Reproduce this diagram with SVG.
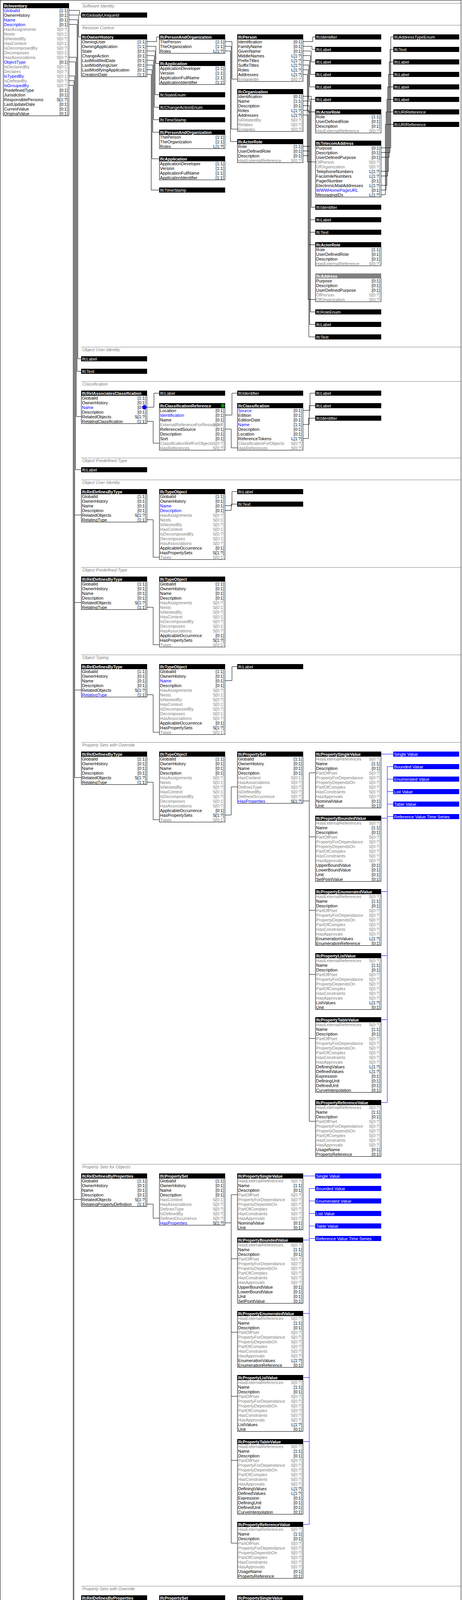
<svg xmlns="http://www.w3.org/2000/svg" width="1184" height="5248" viewBox="0 0 1184 5248">
<style>
text{font-family:"Liberation Sans",Arial,sans-serif;font-size:11px;fill:#000}
.bx{fill:#fff;stroke:#000;stroke-width:1}
.hd{fill:#000}
.hg{fill:#808080}
.hb{fill:#0000ff}
.ht{fill:#fff;font-weight:bold;font-size:10.5px}
.bt{fill:#fff}
.g{fill:#808080}
.u{fill:#0000ff}
.rd{fill:#990000}
.c{text-anchor:end}
.sec{fill:#808080;font-style:italic}
.sl{stroke:#808080;stroke-width:1}
.ln{fill:none;stroke:#000;stroke-width:1}
.lb{fill:none;stroke:#0000ff;stroke-width:1}
</style>
<rect x="0.5" y="0.5" width="1181" height="5246" fill="#fff" stroke="#000"/>
<g id="sections">
<line class="sl" x1="208" y1="8.5" x2="1181" y2="8.5"/><text class="sec" x="211" y="19">Software Identity</text>
<line class="sl" x1="208" y1="64.5" x2="1181" y2="64.5"/><text class="sec" x="211" y="75">Revision Control</text>
<line class="sl" x1="208" y1="888.5" x2="1181" y2="888.5"/><text class="sec" x="211" y="899">Object User Identity</text>
<line class="sl" x1="208" y1="976.5" x2="1181" y2="976.5"/><text class="sec" x="211" y="987">Classification</text>
<line class="sl" x1="208" y1="1172.5" x2="1181" y2="1172.5"/><text class="sec" x="211" y="1183">Object Predefined Type</text>
<line class="sl" x1="208" y1="1228.5" x2="1181" y2="1228.5"/><text class="sec" x="211" y="1239">Object User Identity</text>
<line class="sl" x1="208" y1="1452.5" x2="1181" y2="1452.5"/><text class="sec" x="211" y="1463">Object Predefined Type</text>
<line class="sl" x1="208" y1="1676.5" x2="1181" y2="1676.5"/><text class="sec" x="211" y="1687">Object Typing</text>
<line class="sl" x1="208" y1="1900.5" x2="1181" y2="1900.5"/><text class="sec" x="211" y="1911">Property Sets with Override</text>
<line class="sl" x1="208" y1="2980.5" x2="1181" y2="2980.5"/><text class="sec" x="211" y="2991">Property Sets for Objects</text>
<line class="sl" x1="208" y1="4060.5" x2="1181" y2="4060.5"/><text class="sec" x="211" y="4071">Property Sets with Override</text>
<line class="sl" x1="208" y1="4976.5" x2="1181" y2="4976.5"/><text class="sec" x="211" y="4987">Group Assignment</text>
</g>
<g id="connectors" class="ln">
<path d="M177 26.5H203.5V38.5H208M177 38.5H201.5V94.5H208M177 50.5H199.5V918.5H208M177 62.5H197.5V950.5H208M177 146.5H195.5V1066.5H208M177 158.5H193.5V1202.5H208M177 194.5H191.5V1990.5H208M191.5 1318.5H208M191.5 1542.5H208M191.5 1766.5H208M177 206.5H189.5V4150.5H208M189.5 3070.5H208M177 218.5H187.5V5090.5H208"/>
<path d="M377 106.5H401.5V94.5H408M377 118.5H399.5V162.5H408M377 130.5H397.5V242.5H408M377 142.5H395.5V274.5H408M377 154.5H393.5V306.5H408M377 166.5H391.5V338.5H408M377 178.5H389.5V406.5H408M377 190.5H387.5V486.5H408"/>
<path d="M577 106.5H594.5V202.5H608M577 118.5H592.5V330.5H608M577 130.5H590.5V362.5H608"/>
<path d="M777 106.5H801.5V94.5H808M777 118.5H799.5V126.5H808M777 130.5H797.5V158.5H808M777 142.5H795.5V190.5H808M777 154.5H793.5V222.5H808M777 166.5H791.5V254.5H808M777 178.5H789.5V286.5H808M777 190.5H787.5V414.5H808"/>
<path d="M777 246.5H797.5V530.5H808M777 258.5H795.5V562.5H808M777 270.5H793.5V594.5H808M777 282.5H791.5V626.5H808M777 294.5H789.5V766.5H808M777 374.5H795.5V798.5H808M777 386.5H793.5V830.5H808M777 398.5H791.5V862.5H808"/>
<path d="M977 378.5H1001.5V94.5H1008M977 390.5H999.5V126.5H1008M977 402.5H997.5V158.5H1008M977 438.5H995.5V190.5H1008M977 450.5H993.5V222.5H1008M977 474.5H991.5V254.5H1008M977 486.5H989.5V286.5H1008M977 498.5H987.5V318.5H1008"/>
<path d="M377 1042.5H394.5V1006.5H408M377 1078.5H392.5V1134.5H408M577 1062.5H594.5V1006.5H608M577 1098.5H592.5V1146.5H608M777 1050.5H794.5V1006.5H808M777 1086.5H792.5V1038.5H808M777 1122.5H790.5V1070.5H808"/>
<path d="M377 1330.5H392.5V1426.5H408M577 1294.5H594.5V1258.5H608M577 1306.5H592.5V1290.5H608"/>
<path d="M377 1554.5H392.5V1650.5H408"/>
<path d="M377 1778.5H392.5V1874.5H408M577 1742.5H594.5V1706.5H608"/>
<path d="M377 2002.5H392.5V2098.5H408M577 2086.5H592.5V2014.5H608M777 2050.5H792.5M792.5 1978.5V2870.5M792.5 1978.5H808M792.5 2142.5H808M792.5 2330.5H808M792.5 2494.5H808M792.5 2658.5H808M792.5 2870.5H808"/>
<path d="M377 3082.5H392.5V3118.5H408M577 3130.5H592.5M592.5 3058.5V3950.5M592.5 3058.5H608M592.5 3222.5H608M592.5 3410.5H608M592.5 3574.5H608M592.5 3738.5H608M592.5 3950.5H608"/>
<path d="M377 4162.5H392.5V4198.5H408M577 4210.5H592.5M592.5 4138.5V4818.5M592.5 4138.5H608M592.5 4302.5H608M592.5 4490.5H608M592.5 4654.5H608M592.5 4818.5H608"/>
<path d="M377 5066.5H408"/>
</g>
<g id="connectors-templates" class="lb">
<path d="M977 1930.5H1008M992.5 1962.5V2822.5M992.5 1962.5H1008M992.5 1994.5H1008M992.5 2026.5H1008M992.5 2058.5H1008M992.5 2090.5H1008M977 2094.5H992.5M977 2282.5H992.5M977 2446.5H992.5M977 2610.5H992.5M977 2822.5H992.5"/>
<path d="M777 3010.5H808M792.5 3042.5V3902.5M792.5 3042.5H808M792.5 3074.5H808M792.5 3106.5H808M792.5 3138.5H808M792.5 3170.5H808M777 3174.5H792.5M777 3362.5H792.5M777 3526.5H792.5M777 3690.5H792.5M777 3902.5H792.5"/>
</g>

<g id="n-inventory" transform="translate(8,8)">
<rect class="bx" x="0.5" y="0.5" width="168" height="288"/><rect class="hd" width="169" height="13"/>
<text class="ht" x="2" y="10.5">IfcInventory</text>
<text class="u" x="2" y="23">GlobalId</text><text class="c" x="166" y="23">[1:1]</text>
<text x="2" y="35">OwnerHistory</text><text class="c" x="166" y="35">[0:1]</text>
<text class="u" x="2" y="47">Name</text><text class="c" x="166" y="47">[0:1]</text>
<text class="u" x="2" y="59">Description</text><text class="c" x="166" y="59">[0:1]</text>
<text class="g" x="2" y="71">HasAssignments</text><text class="g c" x="166" y="71">S[0:?]</text>
<text class="g" x="2" y="83">Nests</text><text class="g c" x="166" y="83">S[0:1]</text>
<text class="g" x="2" y="95">IsNestedBy</text><text class="g c" x="166" y="95">S[0:?]</text>
<text class="g" x="2" y="107">HasContext</text><text class="g c" x="166" y="107">S[0:1]</text>
<text class="g" x="2" y="119">IsDecomposedBy</text><text class="g c" x="166" y="119">S[0:?]</text>
<text class="g" x="2" y="131">Decomposes</text><text class="g c" x="166" y="131">S[0:1]</text>
<text class="g" x="2" y="143">HasAssociations</text><text class="g c" x="166" y="143">S[0:?]</text>
<text class="u" x="2" y="155">ObjectType</text><text class="c" x="166" y="155">[0:1]</text>
<text class="g" x="2" y="167">IsDeclaredBy</text><text class="g c" x="166" y="167">S[0:1]</text>
<text class="g" x="2" y="179">Declares</text><text class="g c" x="166" y="179">S[0:?]</text>
<text class="u" x="2" y="191">IsTypedBy</text><text class="g c" x="166" y="191">S[0:1]</text>
<text class="g" x="2" y="203">IsDefinedBy</text><text class="g c" x="166" y="203">S[0:?]</text>
<text class="u" x="2" y="215">IsGroupedBy</text><text class="g c" x="166" y="215">S[0:?]</text>
<text x="2" y="227">PredefinedType</text><text class="c" x="166" y="227">[0:1]</text>
<text x="2" y="239">Jurisdiction</text><text class="c" x="166" y="239">[0:1]</text>
<text x="2" y="251">ResponsiblePersons</text><text class="c" x="166" y="251">S[1:?]</text>
<text x="2" y="263">LastUpdateDate</text><text class="c" x="166" y="263">[0:1]</text>
<text x="2" y="275">CurrentValue</text><text class="c" x="166" y="275">[0:1]</text>
<text x="2" y="287">OriginalValue</text><text class="c" x="166" y="287">[0:1]</text>
</g>

<g id="n-globallyuniqueid" transform="translate(208,32)"><rect class="hd" width="169" height="13"/><text class="bt" x="2" y="10.5">IfcGloballyUniqueId</text></g>

<g id="n-ownerhistory" transform="translate(208,88)">
<rect class="bx" x="0.5" y="0.5" width="168" height="108"/><rect class="hd" width="169" height="13"/>
<text class="ht" x="2" y="10.5">IfcOwnerHistory</text>
<text x="2" y="23">OwningUser</text><text class="c" x="166" y="23">[1:1]</text>
<text x="2" y="35">OwningApplication</text><text class="c" x="166" y="35">[1:1]</text>
<text x="2" y="47">State</text><text class="c" x="166" y="47">[0:1]</text>
<text x="2" y="59">ChangeAction</text><text class="c" x="166" y="59">[0:1]</text>
<text x="2" y="71">LastModifiedDate</text><text class="c" x="166" y="71">[0:1]</text>
<text x="2" y="83">LastModifyingUser</text><text class="c" x="166" y="83">[0:1]</text>
<text x="2" y="95">LastModifyingApplication</text><text class="c" x="166" y="95">[0:1]</text>
<text x="2" y="107">CreationDate</text><text class="c" x="166" y="107">[1:1]</text>
</g>

<g id="n-pao-1" transform="translate(408,88)">
<rect class="bx" x="0.5" y="0.5" width="168" height="48"/><rect class="hd" width="169" height="13"/>
<text class="ht" x="2" y="10.5">IfcPersonAndOrganization</text>
<text x="2" y="23">ThePerson</text><text class="c" x="166" y="23">[1:1]</text>
<text x="2" y="35">TheOrganization</text><text class="c" x="166" y="35">[1:1]</text>
<text x="2" y="47">Roles</text><text class="c" x="166" y="47">L[1:?]</text>
</g>
<g id="n-application-1" transform="translate(408,156)">
<rect class="bx" x="0.5" y="0.5" width="168" height="60"/><rect class="hd" width="169" height="13"/>
<text class="ht" x="2" y="10.5">IfcApplication</text>
<text x="2" y="23">ApplicationDeveloper</text><text class="c" x="166" y="23">[1:1]</text>
<text x="2" y="35">Version</text><text class="c" x="166" y="35">[1:1]</text>
<text x="2" y="47">ApplicationFullName</text><text class="c" x="166" y="47">[1:1]</text>
<text x="2" y="59">ApplicationIdentifier</text><text class="c" x="166" y="59">[1:1]</text>
</g>
<g id="n-stateenum" transform="translate(408,236)"><rect class="hd" width="169" height="13"/><text class="bt" x="2" y="10.5">IfcStateEnum</text></g>
<g id="n-changeactionenum" transform="translate(408,268)"><rect class="hd" width="169" height="13"/><text class="bt" x="2" y="10.5">IfcChangeActionEnum</text></g>
<g id="n-timestamp-1" transform="translate(408,300)"><rect class="hd" width="169" height="13"/><text class="bt" x="2" y="10.5">IfcTimeStamp</text></g>
<g id="n-pao-2" transform="translate(408,332)">
<rect class="bx" x="0.5" y="0.5" width="168" height="48"/><rect class="hd" width="169" height="13"/>
<text class="ht" x="2" y="10.5">IfcPersonAndOrganization</text>
<text x="2" y="23">ThePerson</text><text class="c" x="166" y="23">[1:1]</text>
<text x="2" y="35">TheOrganization</text><text class="c" x="166" y="35">[1:1]</text>
<text x="2" y="47">Roles</text><text class="c" x="166" y="47">L[1:?]</text>
</g>
<g id="n-application-2" transform="translate(408,400)">
<rect class="bx" x="0.5" y="0.5" width="168" height="60"/><rect class="hd" width="169" height="13"/>
<text class="ht" x="2" y="10.5">IfcApplication</text>
<text x="2" y="23">ApplicationDeveloper</text><text class="c" x="166" y="23">[1:1]</text>
<text x="2" y="35">Version</text><text class="c" x="166" y="35">[1:1]</text>
<text x="2" y="47">ApplicationFullName</text><text class="c" x="166" y="47">[1:1]</text>
<text x="2" y="59">ApplicationIdentifier</text><text class="c" x="166" y="59">[1:1]</text>
</g>
<g id="n-timestamp-2" transform="translate(408,480)"><rect class="hd" width="169" height="13"/><text class="bt" x="2" y="10.5">IfcTimeStamp</text></g>

<g id="n-person" transform="translate(608,88)">
<rect class="bx" x="0.5" y="0.5" width="168" height="120"/><rect class="hd" width="169" height="13"/>
<text class="ht" x="2" y="10.5">IfcPerson</text>
<text x="2" y="23">Identification</text><text class="c" x="166" y="23">[0:1]</text>
<text x="2" y="35">FamilyName</text><text class="c" x="166" y="35">[0:1]</text>
<text x="2" y="47">GivenName</text><text class="c" x="166" y="47">[0:1]</text>
<text x="2" y="59">MiddleNames</text><text class="c" x="166" y="59">L[1:?]</text>
<text x="2" y="71">PrefixTitles</text><text class="c" x="166" y="71">L[1:?]</text>
<text x="2" y="83">SuffixTitles</text><text class="c" x="166" y="83">L[1:?]</text>
<text x="2" y="95">Roles</text><text class="c" x="166" y="95">L[1:?]</text>
<text x="2" y="107">Addresses</text><text class="c" x="166" y="107">L[1:?]</text>
<text class="g" x="2" y="119">EngagedIn</text><text class="g c" x="166" y="119">S[0:?]</text>
</g>
<g id="n-organization" transform="translate(608,228)">
<rect class="bx" x="0.5" y="0.5" width="168" height="108"/><rect class="hd" width="169" height="13"/>
<text class="ht" x="2" y="10.5">IfcOrganization</text>
<text x="2" y="23">Identification</text><text class="c" x="166" y="23">[0:1]</text>
<text x="2" y="35">Name</text><text class="c" x="166" y="35">[1:1]</text>
<text x="2" y="47">Description</text><text class="c" x="166" y="47">[0:1]</text>
<text x="2" y="59">Roles</text><text class="c" x="166" y="59">L[1:?]</text>
<text x="2" y="71">Addresses</text><text class="c" x="166" y="71">L[1:?]</text>
<text class="g" x="2" y="83">IsRelatedBy</text><text class="g c" x="166" y="83">S[0:?]</text>
<text class="g" x="2" y="95">Relates</text><text class="g c" x="166" y="95">S[0:?]</text>
<text class="g" x="2" y="107">Engages</text><text class="g c" x="166" y="107">S[0:?]</text>
</g>
<g id="n-actorrole-1" transform="translate(608,356)">
<rect class="bx" x="0.5" y="0.5" width="168" height="60"/><rect class="hd" width="169" height="13"/>
<text class="ht" x="2" y="10.5">IfcActorRole</text>
<text x="2" y="23">Role</text><text class="c" x="166" y="23">[1:1]</text>
<text x="2" y="35">UserDefinedRole</text><text class="c" x="166" y="35">[0:1]</text>
<text x="2" y="47">Description</text><text class="c" x="166" y="47">[0:1]</text>
<text class="g" x="2" y="59">HasExternalReference</text><text class="g c" x="166" y="59">S[0:?]</text>
</g>

<g id="n-identifier-1" transform="translate(808,88)"><rect class="hd" width="169" height="13"/><text class="bt" x="2" y="10.5">IfcIdentifier</text></g>
<g id="n-label-1" transform="translate(808,120)"><rect class="hd" width="169" height="13"/><text class="bt" x="2" y="10.5">IfcLabel</text></g>
<g id="n-label-2" transform="translate(808,152)"><rect class="hd" width="169" height="13"/><text class="bt" x="2" y="10.5">IfcLabel</text></g>
<g id="n-label-3" transform="translate(808,184)"><rect class="hd" width="169" height="13"/><text class="bt" x="2" y="10.5">IfcLabel</text></g>
<g id="n-label-4" transform="translate(808,216)"><rect class="hd" width="169" height="13"/><text class="bt" x="2" y="10.5">IfcLabel</text></g>
<g id="n-label-5" transform="translate(808,248)"><rect class="hd" width="169" height="13"/><text class="bt" x="2" y="10.5">IfcLabel</text></g>
<g id="n-actorrole-2" transform="translate(808,280)">
<rect class="bx" x="0.5" y="0.5" width="168" height="60"/><rect class="hd" width="169" height="13"/>
<text class="ht" x="2" y="10.5">IfcActorRole</text>
<text x="2" y="23">Role</text><text class="c" x="166" y="23">[1:1]</text>
<text x="2" y="35">UserDefinedRole</text><text class="c" x="166" y="35">[0:1]</text>
<text x="2" y="47">Description</text><text class="c" x="166" y="47">[0:1]</text>
<text class="g" x="2" y="59">HasExternalReference</text><text class="g c" x="166" y="59">S[0:?]</text>
</g>
<g id="n-telecomaddress" transform="translate(808,360)">
<rect class="bx" x="0.5" y="0.5" width="168" height="144"/><rect class="hd" width="169" height="13"/>
<text class="ht" x="2" y="10.5">IfcTelecomAddress</text>
<text x="2" y="23">Purpose</text><text class="c" x="166" y="23">[0:1]</text>
<text x="2" y="35">Description</text><text class="c" x="166" y="35">[0:1]</text>
<text x="2" y="47">UserDefinedPurpose</text><text class="c" x="166" y="47">[0:1]</text>
<text class="g" x="2" y="59">OfPerson</text><text class="g c" x="166" y="59">S[0:?]</text>
<text class="g" x="2" y="71">OfOrganization</text><text class="g c" x="166" y="71">S[0:?]</text>
<text x="2" y="83">TelephoneNumbers</text><text class="c" x="166" y="83">L[1:?]</text>
<text x="2" y="95">FacsimileNumbers</text><text class="c" x="166" y="95">L[1:?]</text>
<text x="2" y="107">PagerNumber</text><text class="c" x="166" y="107">[0:1]</text>
<text x="2" y="119">ElectronicMailAddresses</text><text class="c" x="166" y="119">L[1:?]</text>
<text class="u" x="2" y="131">WWWHomePageURL</text><text class="c" x="166" y="131">[0:1]</text>
<text x="2" y="143">MessagingIDs</text><text class="c" x="166" y="143">L[1:?]</text>
</g>
<g id="n-identifier-2" transform="translate(808,524)"><rect class="hd" width="169" height="13"/><text class="bt" x="2" y="10.5">IfcIdentifier</text></g>
<g id="n-label-6" transform="translate(808,556)"><rect class="hd" width="169" height="13"/><text class="bt" x="2" y="10.5">IfcLabel</text></g>
<g id="n-text-1" transform="translate(808,588)"><rect class="hd" width="169" height="13"/><text class="bt" x="2" y="10.5">IfcText</text></g>
<g id="n-actorrole-3" transform="translate(808,620)">
<rect class="bx" x="0.5" y="0.5" width="168" height="60"/><rect class="hd" width="169" height="13"/>
<text class="ht" x="2" y="10.5">IfcActorRole</text>
<text x="2" y="23">Role</text><text class="c" x="166" y="23">[1:1]</text>
<text x="2" y="35">UserDefinedRole</text><text class="c" x="166" y="35">[0:1]</text>
<text x="2" y="47">Description</text><text class="c" x="166" y="47">[0:1]</text>
<text class="g" x="2" y="59">HasExternalReference</text><text class="g c" x="166" y="59">S[0:?]</text>
</g>
<g id="n-address" transform="translate(808,700)">
<rect class="bx" x="0.5" y="0.5" width="168" height="72"/><rect class="hg" width="169" height="13"/>
<text class="ht" x="2" y="10.5">IfcAddress</text>
<text x="2" y="23">Purpose</text><text class="c" x="166" y="23">[0:1]</text>
<text x="2" y="35">Description</text><text class="c" x="166" y="35">[0:1]</text>
<text x="2" y="47">UserDefinedPurpose</text><text class="c" x="166" y="47">[0:1]</text>
<text class="g" x="2" y="59">OfPerson</text><text class="g c" x="166" y="59">S[0:?]</text>
<text class="g" x="2" y="71">OfOrganization</text><text class="g c" x="166" y="71">S[0:?]</text>
</g>
<g id="n-roleenum" transform="translate(808,792)"><rect class="hd" width="169" height="13"/><text class="bt" x="2" y="10.5">IfcRoleEnum</text></g>
<g id="n-label-7" transform="translate(808,824)"><rect class="hd" width="169" height="13"/><text class="bt" x="2" y="10.5">IfcLabel</text></g>
<g id="n-text-2" transform="translate(808,856)"><rect class="hd" width="169" height="13"/><text class="bt" x="2" y="10.5">IfcText</text></g>

<g id="n-addresstypeenum" transform="translate(1008,88)"><rect class="hd" width="169" height="13"/><text class="bt" x="2" y="10.5">IfcAddressTypeEnum</text></g>
<g id="n-text-3" transform="translate(1008,120)"><rect class="hd" width="169" height="13"/><text class="bt" x="2" y="10.5">IfcText</text></g>
<g id="n-label-8" transform="translate(1008,152)"><rect class="hd" width="169" height="13"/><text class="bt" x="2" y="10.5">IfcLabel</text></g>
<g id="n-label-9" transform="translate(1008,184)"><rect class="hd" width="169" height="13"/><text class="bt" x="2" y="10.5">IfcLabel</text></g>
<g id="n-label-10" transform="translate(1008,216)"><rect class="hd" width="169" height="13"/><text class="bt" x="2" y="10.5">IfcLabel</text></g>
<g id="n-label-11" transform="translate(1008,248)"><rect class="hd" width="169" height="13"/><text class="bt" x="2" y="10.5">IfcLabel</text></g>
<g id="n-urireference-1" transform="translate(1008,280)"><rect class="hd" width="169" height="13"/><text class="bt" x="2" y="10.5">IfcURIReference</text></g>
<g id="n-urireference-2" transform="translate(1008,312)"><rect class="hd" width="169" height="13"/><text class="bt" x="2" y="10.5">IfcURIReference</text></g>

<g id="n-label-12" transform="translate(208,912)"><rect class="hd" width="169" height="13"/><text class="bt" x="2" y="10.5">IfcLabel</text></g>
<g id="n-text-4" transform="translate(208,944)"><rect class="hd" width="169" height="13"/><text class="bt" x="2" y="10.5">IfcText</text></g>

<g id="n-relassociatesclassification" transform="translate(208,1000)">
<rect class="bx" x="0.5" y="0.5" width="168" height="84"/><rect class="hd" width="169" height="13"/>
<text class="ht" x="2" y="10.5">IfcRelAssociatesClassification</text>
<text x="2" y="23">GlobalId</text><text class="c" x="166" y="23">[1:1]</text>
<text x="2" y="35">OwnerHistory</text><text class="c" x="166" y="35">[0:1]</text>
<text class="u" x="2" y="47">Name</text><text class="c" x="166" y="47">[0:1]</text>
<text x="2" y="59">Description</text><text class="c" x="166" y="59">[0:1]</text>
<text x="2" y="71">RelatedObjects</text><text class="c" x="166" y="71">S[1:?]</text>
<text x="2" y="83">RelatingClassification</text><text class="c" x="166" y="83">[1:1]</text>
<circle cx="162" cy="42.5" r="5.5" fill="#0000ff"/>
</g>
<g id="n-label-13" transform="translate(408,1000)"><rect class="hd" width="169" height="13"/><text class="bt" x="2" y="10.5">IfcLabel</text></g>
<g id="n-classificationreference" transform="translate(408,1032)">
<rect class="bx" x="0.5" y="0.5" width="168" height="120"/><rect class="hd" width="169" height="13"/>
<text class="ht" x="2" y="10.5">IfcClassificationReference</text>
<circle cx="163" cy="6.5" r="5" fill="#009000"/>
<text x="2" y="23">Location</text><text class="c" x="166" y="23">[0:1]</text>
<text class="u" x="2" y="35">Identification</text><text class="c" x="166" y="35">[0:1]</text>
<text x="2" y="47">Name</text><text class="c" x="166" y="47">[0:1]</text>
<text class="g" x="2" y="59">ExternalReferenceForResources</text><text class="g c" x="166" y="59">S[0:?]</text>
<text x="2" y="71">ReferencedSource</text><text class="c" x="166" y="71">[0:1]</text>
<text x="2" y="83">Description</text><text class="c" x="166" y="83">[0:1]</text>
<text x="2" y="95">Sort</text><text class="c" x="166" y="95">[0:1]</text>
<text class="g" x="2" y="107">ClassificationRefForObjects</text><text class="g c" x="166" y="107">S[0:?]</text>
<text class="g" x="2" y="119">HasReferences</text><text class="g c" x="166" y="119">S[0:?]</text>
</g>
<g id="n-identifier-3" transform="translate(608,1000)"><rect class="hd" width="169" height="13"/><text class="bt" x="2" y="10.5">IfcIdentifier</text></g>
<g id="n-classification" transform="translate(608,1032)">
<rect class="bx" x="0.5" y="0.5" width="168" height="120"/><rect class="hd" width="169" height="13"/>
<text class="ht" x="2" y="10.5">IfcClassification</text>
<text class="u" x="2" y="23">Source</text><text class="c" x="166" y="23">[0:1]</text>
<text x="2" y="35">Edition</text><text class="c" x="166" y="35">[0:1]</text>
<text x="2" y="47">EditionDate</text><text class="c" x="166" y="47">[0:1]</text>
<text class="u" x="2" y="59">Name</text><text class="c" x="166" y="59">[1:1]</text>
<text x="2" y="71">Description</text><text class="c" x="166" y="71">[0:1]</text>
<text x="2" y="83">Location</text><text class="c" x="166" y="83">[0:1]</text>
<text x="2" y="95">ReferenceTokens</text><text class="c" x="166" y="95">L[1:?]</text>
<text class="g" x="2" y="107">ClassificationForObjects</text><text class="g c" x="166" y="107">S[0:?]</text>
<text class="g" x="2" y="119">HasReferences</text><text class="g c" x="166" y="119">S[0:?]</text>
</g>
<g id="n-label-14" transform="translate(808,1000)"><rect class="hd" width="169" height="13"/><text class="bt" x="2" y="10.5">IfcLabel</text></g>
<g id="n-label-15" transform="translate(808,1032)"><rect class="hd" width="169" height="13"/><text class="bt" x="2" y="10.5">IfcLabel</text></g>
<g id="n-identifier-4" transform="translate(808,1064)"><rect class="hd" width="169" height="13"/><text class="bt" x="2" y="10.5">IfcIdentifier</text></g>

<g id="n-label-16" transform="translate(208,1196)"><rect class="hd" width="169" height="13"/><text class="bt" x="2" y="10.5">IfcLabel</text></g>

<g id="n-reldefinesbytype-1" transform="translate(208,1252)">
<rect class="bx" x="0.5" y="0.5" width="168" height="84"/><rect class="hd" width="169" height="13"/>
<text class="ht" x="2" y="10.5">IfcRelDefinesByType</text>
<text x="2" y="23">GlobalId</text><text class="c" x="166" y="23">[1:1]</text>
<text x="2" y="35">OwnerHistory</text><text class="c" x="166" y="35">[0:1]</text>
<text x="2" y="47">Name</text><text class="c" x="166" y="47">[0:1]</text>
<text x="2" y="59">Description</text><text class="c" x="166" y="59">[0:1]</text>
<text x="2" y="71">RelatedObjects</text><text class="c" x="166" y="71">S[1:?]</text>
<text x="2" y="83">RelatingType</text><text class="c" x="166" y="83">[1:1]</text>
</g>
<g id="n-typeobject-1" transform="translate(408,1252)">
<rect class="bx" x="0.5" y="0.5" width="168" height="180"/><rect class="hd" width="169" height="13"/>
<text class="ht" x="2" y="10.5">IfcTypeObject</text>
<text x="2" y="23">GlobalId</text><text class="c" x="166" y="23">[1:1]</text>
<text x="2" y="35">OwnerHistory</text><text class="c" x="166" y="35">[0:1]</text>
<text class="u" x="2" y="47">Name</text><text class="c" x="166" y="47">[0:1]</text>
<text class="u" x="2" y="59">Description</text><text class="c" x="166" y="59">[0:1]</text>
<text class="g" x="2" y="71">HasAssignments</text><text class="g c" x="166" y="71">S[0:?]</text>
<text class="g" x="2" y="83">Nests</text><text class="g c" x="166" y="83">S[0:1]</text>
<text class="g" x="2" y="95">IsNestedBy</text><text class="g c" x="166" y="95">S[0:?]</text>
<text class="g" x="2" y="107">HasContext</text><text class="g c" x="166" y="107">S[0:1]</text>
<text class="g" x="2" y="119">IsDecomposedBy</text><text class="g c" x="166" y="119">S[0:?]</text>
<text class="g" x="2" y="131">Decomposes</text><text class="g c" x="166" y="131">S[0:1]</text>
<text class="g" x="2" y="143">HasAssociations</text><text class="g c" x="166" y="143">S[0:?]</text>
<text x="2" y="155">ApplicableOccurrence</text><text class="c" x="166" y="155">[0:1]</text>
<text x="2" y="167">HasPropertySets</text><text class="c" x="166" y="167">S[1:?]</text>
<text class="g" x="2" y="179">Types</text><text class="g c" x="166" y="179">S[0:1]</text>
</g>
<g id="n-label-17" transform="translate(608,1252)"><rect class="hd" width="169" height="13"/><text class="bt" x="2" y="10.5">IfcLabel</text></g>
<g id="n-text-5" transform="translate(608,1284)"><rect class="hd" width="169" height="13"/><text class="bt" x="2" y="10.5">IfcText</text></g>

<g id="n-reldefinesbytype-2" transform="translate(208,1476)">
<rect class="bx" x="0.5" y="0.5" width="168" height="84"/><rect class="hd" width="169" height="13"/>
<text class="ht" x="2" y="10.5">IfcRelDefinesByType</text>
<text x="2" y="23">GlobalId</text><text class="c" x="166" y="23">[1:1]</text>
<text x="2" y="35">OwnerHistory</text><text class="c" x="166" y="35">[0:1]</text>
<text x="2" y="47">Name</text><text class="c" x="166" y="47">[0:1]</text>
<text x="2" y="59">Description</text><text class="c" x="166" y="59">[0:1]</text>
<text x="2" y="71">RelatedObjects</text><text class="c" x="166" y="71">S[1:?]</text>
<text x="2" y="83">RelatingType</text><text class="c" x="166" y="83">[1:1]</text>
</g>
<g id="n-typeobject-2" transform="translate(408,1476)">
<rect class="bx" x="0.5" y="0.5" width="168" height="180"/><rect class="hd" width="169" height="13"/>
<text class="ht" x="2" y="10.5">IfcTypeObject</text>
<text x="2" y="23">GlobalId</text><text class="c" x="166" y="23">[1:1]</text>
<text x="2" y="35">OwnerHistory</text><text class="c" x="166" y="35">[0:1]</text>
<text x="2" y="47">Name</text><text class="c" x="166" y="47">[0:1]</text>
<text x="2" y="59">Description</text><text class="c" x="166" y="59">[0:1]</text>
<text class="g" x="2" y="71">HasAssignments</text><text class="g c" x="166" y="71">S[0:?]</text>
<text class="g" x="2" y="83">Nests</text><text class="g c" x="166" y="83">S[0:1]</text>
<text class="g" x="2" y="95">IsNestedBy</text><text class="g c" x="166" y="95">S[0:?]</text>
<text class="g" x="2" y="107">HasContext</text><text class="g c" x="166" y="107">S[0:1]</text>
<text class="g" x="2" y="119">IsDecomposedBy</text><text class="g c" x="166" y="119">S[0:?]</text>
<text class="g" x="2" y="131">Decomposes</text><text class="g c" x="166" y="131">S[0:1]</text>
<text class="g" x="2" y="143">HasAssociations</text><text class="g c" x="166" y="143">S[0:?]</text>
<text x="2" y="155">ApplicableOccurrence</text><text class="c" x="166" y="155">[0:1]</text>
<text x="2" y="167">HasPropertySets</text><text class="c" x="166" y="167">S[1:?]</text>
<text class="g" x="2" y="179">Types</text><text class="g c" x="166" y="179">S[0:1]</text>
</g>

<g id="n-reldefinesbytype-3" transform="translate(208,1700)">
<rect class="bx" x="0.5" y="0.5" width="168" height="84"/><rect class="hd" width="169" height="13"/>
<text class="ht" x="2" y="10.5">IfcRelDefinesByType</text>
<text x="2" y="23">GlobalId</text><text class="c" x="166" y="23">[1:1]</text>
<text x="2" y="35">OwnerHistory</text><text class="c" x="166" y="35">[0:1]</text>
<text x="2" y="47">Name</text><text class="c" x="166" y="47">[0:1]</text>
<text x="2" y="59">Description</text><text class="c" x="166" y="59">[0:1]</text>
<text x="2" y="71">RelatedObjects</text><text class="c" x="166" y="71">S[1:?]</text>
<text class="u" x="2" y="83">RelatingType</text><text class="c" x="166" y="83">[1:1]</text>
</g>
<g id="n-typeobject-3" transform="translate(408,1700)">
<rect class="bx" x="0.5" y="0.5" width="168" height="180"/><rect class="hd" width="169" height="13"/>
<text class="ht" x="2" y="10.5">IfcTypeObject</text>
<text x="2" y="23">GlobalId</text><text class="c" x="166" y="23">[1:1]</text>
<text x="2" y="35">OwnerHistory</text><text class="c" x="166" y="35">[0:1]</text>
<text class="u" x="2" y="47">Name</text><text class="c" x="166" y="47">[0:1]</text>
<text x="2" y="59">Description</text><text class="c" x="166" y="59">[0:1]</text>
<text class="g" x="2" y="71">HasAssignments</text><text class="g c" x="166" y="71">S[0:?]</text>
<text class="g" x="2" y="83">Nests</text><text class="g c" x="166" y="83">S[0:1]</text>
<text class="g" x="2" y="95">IsNestedBy</text><text class="g c" x="166" y="95">S[0:?]</text>
<text class="g" x="2" y="107">HasContext</text><text class="g c" x="166" y="107">S[0:1]</text>
<text class="g" x="2" y="119">IsDecomposedBy</text><text class="g c" x="166" y="119">S[0:?]</text>
<text class="g" x="2" y="131">Decomposes</text><text class="g c" x="166" y="131">S[0:1]</text>
<text class="g" x="2" y="143">HasAssociations</text><text class="g c" x="166" y="143">S[0:?]</text>
<text x="2" y="155">ApplicableOccurrence</text><text class="c" x="166" y="155">[0:1]</text>
<text x="2" y="167">HasPropertySets</text><text class="c" x="166" y="167">S[1:?]</text>
<text class="g" x="2" y="179">Types</text><text class="g c" x="166" y="179">S[0:1]</text>
</g>
<g id="n-label-18" transform="translate(608,1700)"><rect class="hd" width="169" height="13"/><text class="bt" x="2" y="10.5">IfcLabel</text></g>

<g id="n-reldefinesbytype-4" transform="translate(208,1924)">
<rect class="bx" x="0.5" y="0.5" width="168" height="84"/><rect class="hd" width="169" height="13"/>
<text class="ht" x="2" y="10.5">IfcRelDefinesByType</text>
<text x="2" y="23">GlobalId</text><text class="c" x="166" y="23">[1:1]</text>
<text x="2" y="35">OwnerHistory</text><text class="c" x="166" y="35">[0:1]</text>
<text x="2" y="47">Name</text><text class="c" x="166" y="47">[0:1]</text>
<text x="2" y="59">Description</text><text class="c" x="166" y="59">[0:1]</text>
<text x="2" y="71">RelatedObjects</text><text class="c" x="166" y="71">S[1:?]</text>
<text x="2" y="83">RelatingType</text><text class="c" x="166" y="83">[1:1]</text>
</g>
<g id="n-typeobject-4" transform="translate(408,1924)">
<rect class="bx" x="0.5" y="0.5" width="168" height="180"/><rect class="hd" width="169" height="13"/>
<text class="ht" x="2" y="10.5">IfcTypeObject</text>
<text x="2" y="23">GlobalId</text><text class="c" x="166" y="23">[1:1]</text>
<text x="2" y="35">OwnerHistory</text><text class="c" x="166" y="35">[0:1]</text>
<text x="2" y="47">Name</text><text class="c" x="166" y="47">[0:1]</text>
<text x="2" y="59">Description</text><text class="c" x="166" y="59">[0:1]</text>
<text class="g" x="2" y="71">HasAssignments</text><text class="g c" x="166" y="71">S[0:?]</text>
<text class="g" x="2" y="83">Nests</text><text class="g c" x="166" y="83">S[0:1]</text>
<text class="g" x="2" y="95">IsNestedBy</text><text class="g c" x="166" y="95">S[0:?]</text>
<text class="g" x="2" y="107">HasContext</text><text class="g c" x="166" y="107">S[0:1]</text>
<text class="g" x="2" y="119">IsDecomposedBy</text><text class="g c" x="166" y="119">S[0:?]</text>
<text class="g" x="2" y="131">Decomposes</text><text class="g c" x="166" y="131">S[0:1]</text>
<text class="g" x="2" y="143">HasAssociations</text><text class="g c" x="166" y="143">S[0:?]</text>
<text x="2" y="155">ApplicableOccurrence</text><text class="c" x="166" y="155">[0:1]</text>
<text x="2" y="167">HasPropertySets</text><text class="c" x="166" y="167">S[1:?]</text>
<text class="g" x="2" y="179">Types</text><text class="g c" x="166" y="179">S[0:1]</text>
</g>
<g id="n-propertyset-1" transform="translate(608,1924)">
<rect class="bx" x="0.5" y="0.5" width="168" height="132"/><rect class="hd" width="169" height="13"/>
<text class="ht" x="2" y="10.5">IfcPropertySet</text>
<text x="2" y="23">GlobalId</text><text class="c" x="166" y="23">[1:1]</text>
<text x="2" y="35">OwnerHistory</text><text class="c" x="166" y="35">[0:1]</text>
<text x="2" y="47">Name</text><text class="c" x="166" y="47">[0:1]</text>
<text x="2" y="59">Description</text><text class="c" x="166" y="59">[0:1]</text>
<text class="g" x="2" y="71">HasContext</text><text class="g c" x="166" y="71">S[0:1]</text>
<text class="g" x="2" y="83">HasAssociations</text><text class="g c" x="166" y="83">S[0:?]</text>
<text class="g" x="2" y="95">DefinesType</text><text class="g c" x="166" y="95">S[0:?]</text>
<text class="g" x="2" y="107">IsDefinedBy</text><text class="g c" x="166" y="107">S[0:?]</text>
<text class="g" x="2" y="119">DefinesOccurrence</text><text class="g c" x="166" y="119">S[0:?]</text>
<text class="u" x="2" y="131">HasProperties</text><text class="c" x="166" y="131">S[1:?]</text>
</g>
<g id="n-singlevalue-1" transform="translate(808,1924)">
<rect class="bx" x="0.5" y="0.5" width="168" height="144"/><rect class="hd" width="169" height="13"/>
<text class="ht" x="2" y="10.5">IfcPropertySingleValue</text>
<text class="g" x="2" y="23">HasExternalReferences</text><text class="g c" x="166" y="23">S[0:?]</text>
<text x="2" y="35">Name</text><text class="c" x="166" y="35">[1:1]</text>
<text x="2" y="47">Description</text><text class="c" x="166" y="47">[0:1]</text>
<text class="g" x="2" y="59">PartOfPset</text><text class="g c" x="166" y="59">S[0:?]</text>
<text class="g" x="2" y="71">PropertyForDependance</text><text class="g c" x="166" y="71">S[0:?]</text>
<text class="g" x="2" y="83">PropertyDependsOn</text><text class="g c" x="166" y="83">S[0:?]</text>
<text class="g" x="2" y="95">PartOfComplex</text><text class="g c" x="166" y="95">S[0:?]</text>
<text class="g" x="2" y="107">HasConstraints</text><text class="g c" x="166" y="107">S[0:?]</text>
<text class="g" x="2" y="119">HasApprovals</text><text class="g c" x="166" y="119">S[0:?]</text>
<text x="2" y="131">NominalValue</text><text class="c" x="166" y="131">[0:1]</text>
<text x="2" y="143">Unit</text><text class="c" x="166" y="143">[0:1]</text>
</g>
<g id="n-boundedvalue-1" transform="translate(808,2088)">
<rect class="bx" x="0.5" y="0.5" width="168" height="168"/><rect class="hd" width="169" height="13"/>
<text class="ht" x="2" y="10.5">IfcPropertyBoundedValue</text>
<text class="g" x="2" y="23">HasExternalReferences</text><text class="g c" x="166" y="23">S[0:?]</text>
<text x="2" y="35">Name</text><text class="c" x="166" y="35">[1:1]</text>
<text x="2" y="47">Description</text><text class="c" x="166" y="47">[0:1]</text>
<text class="g" x="2" y="59">PartOfPset</text><text class="g c" x="166" y="59">S[0:?]</text>
<text class="g" x="2" y="71">PropertyForDependance</text><text class="g c" x="166" y="71">S[0:?]</text>
<text class="g" x="2" y="83">PropertyDependsOn</text><text class="g c" x="166" y="83">S[0:?]</text>
<text class="g" x="2" y="95">PartOfComplex</text><text class="g c" x="166" y="95">S[0:?]</text>
<text class="g" x="2" y="107">HasConstraints</text><text class="g c" x="166" y="107">S[0:?]</text>
<text class="g" x="2" y="119">HasApprovals</text><text class="g c" x="166" y="119">S[0:?]</text>
<text x="2" y="131">UpperBoundValue</text><text class="c" x="166" y="131">[0:1]</text>
<text x="2" y="143">LowerBoundValue</text><text class="c" x="166" y="143">[0:1]</text>
<text x="2" y="155">Unit</text><text class="c" x="166" y="155">[0:1]</text>
<text x="2" y="167">SetPointValue</text><text class="c" x="166" y="167">[0:1]</text>
</g>
<g id="n-enumeratedvalue-1" transform="translate(808,2276)">
<rect class="bx" x="0.5" y="0.5" width="168" height="144"/><rect class="hd" width="169" height="13"/>
<text class="ht" x="2" y="10.5">IfcPropertyEnumeratedValue</text>
<text class="g" x="2" y="23">HasExternalReferences</text><text class="g c" x="166" y="23">S[0:?]</text>
<text x="2" y="35">Name</text><text class="c" x="166" y="35">[1:1]</text>
<text x="2" y="47">Description</text><text class="c" x="166" y="47">[0:1]</text>
<text class="g" x="2" y="59">PartOfPset</text><text class="g c" x="166" y="59">S[0:?]</text>
<text class="g" x="2" y="71">PropertyForDependance</text><text class="g c" x="166" y="71">S[0:?]</text>
<text class="g" x="2" y="83">PropertyDependsOn</text><text class="g c" x="166" y="83">S[0:?]</text>
<text class="g" x="2" y="95">PartOfComplex</text><text class="g c" x="166" y="95">S[0:?]</text>
<text class="g" x="2" y="107">HasConstraints</text><text class="g c" x="166" y="107">S[0:?]</text>
<text class="g" x="2" y="119">HasApprovals</text><text class="g c" x="166" y="119">S[0:?]</text>
<text x="2" y="131">EnumerationValues</text><text class="c" x="166" y="131">L[1:?]</text>
<text x="2" y="143">EnumerationReference</text><text class="c" x="166" y="143">[0:1]</text>
</g>
<g id="n-listvalue-1" transform="translate(808,2440)">
<rect class="bx" x="0.5" y="0.5" width="168" height="144"/><rect class="hd" width="169" height="13"/>
<text class="ht" x="2" y="10.5">IfcPropertyListValue</text>
<text class="g" x="2" y="23">HasExternalReferences</text><text class="g c" x="166" y="23">S[0:?]</text>
<text x="2" y="35">Name</text><text class="c" x="166" y="35">[1:1]</text>
<text x="2" y="47">Description</text><text class="c" x="166" y="47">[0:1]</text>
<text class="g" x="2" y="59">PartOfPset</text><text class="g c" x="166" y="59">S[0:?]</text>
<text class="g" x="2" y="71">PropertyForDependance</text><text class="g c" x="166" y="71">S[0:?]</text>
<text class="g" x="2" y="83">PropertyDependsOn</text><text class="g c" x="166" y="83">S[0:?]</text>
<text class="g" x="2" y="95">PartOfComplex</text><text class="g c" x="166" y="95">S[0:?]</text>
<text class="g" x="2" y="107">HasConstraints</text><text class="g c" x="166" y="107">S[0:?]</text>
<text class="g" x="2" y="119">HasApprovals</text><text class="g c" x="166" y="119">S[0:?]</text>
<text x="2" y="131">ListValues</text><text class="c" x="166" y="131">L[1:?]</text>
<text x="2" y="143">Unit</text><text class="c" x="166" y="143">[0:1]</text>
</g>
<g id="n-tablevalue-1" transform="translate(808,2604)">
<rect class="bx" x="0.5" y="0.5" width="168" height="192"/><rect class="hd" width="169" height="13"/>
<text class="ht" x="2" y="10.5">IfcPropertyTableValue</text>
<text class="g" x="2" y="23">HasExternalReferences</text><text class="g c" x="166" y="23">S[0:?]</text>
<text x="2" y="35">Name</text><text class="c" x="166" y="35">[1:1]</text>
<text x="2" y="47">Description</text><text class="c" x="166" y="47">[0:1]</text>
<text class="g" x="2" y="59">PartOfPset</text><text class="g c" x="166" y="59">S[0:?]</text>
<text class="g" x="2" y="71">PropertyForDependance</text><text class="g c" x="166" y="71">S[0:?]</text>
<text class="g" x="2" y="83">PropertyDependsOn</text><text class="g c" x="166" y="83">S[0:?]</text>
<text class="g" x="2" y="95">PartOfComplex</text><text class="g c" x="166" y="95">S[0:?]</text>
<text class="g" x="2" y="107">HasConstraints</text><text class="g c" x="166" y="107">S[0:?]</text>
<text class="g" x="2" y="119">HasApprovals</text><text class="g c" x="166" y="119">S[0:?]</text>
<text x="2" y="131">DefiningValues</text><text class="c" x="166" y="131">L[1:?]</text>
<text x="2" y="143">DefinedValues</text><text class="c" x="166" y="143">L[1:?]</text>
<text x="2" y="155">Expression</text><text class="c" x="166" y="155">[0:1]</text>
<text x="2" y="167">DefiningUnit</text><text class="c" x="166" y="167">[0:1]</text>
<text x="2" y="179">DefinedUnit</text><text class="c" x="166" y="179">[0:1]</text>
<text x="2" y="191">CurveInterpolation</text><text class="c" x="166" y="191">[0:1]</text>
</g>
<g id="n-referencevalue-1" transform="translate(808,2816)">
<rect class="bx" x="0.5" y="0.5" width="168" height="144"/><rect class="hd" width="169" height="13"/>
<text class="ht" x="2" y="10.5">IfcPropertyReferenceValue</text>
<text class="g" x="2" y="23">HasExternalReferences</text><text class="g c" x="166" y="23">S[0:?]</text>
<text x="2" y="35">Name</text><text class="c" x="166" y="35">[1:1]</text>
<text x="2" y="47">Description</text><text class="c" x="166" y="47">[0:1]</text>
<text class="g" x="2" y="59">PartOfPset</text><text class="g c" x="166" y="59">S[0:?]</text>
<text class="g" x="2" y="71">PropertyForDependance</text><text class="g c" x="166" y="71">S[0:?]</text>
<text class="g" x="2" y="83">PropertyDependsOn</text><text class="g c" x="166" y="83">S[0:?]</text>
<text class="g" x="2" y="95">PartOfComplex</text><text class="g c" x="166" y="95">S[0:?]</text>
<text class="g" x="2" y="107">HasConstraints</text><text class="g c" x="166" y="107">S[0:?]</text>
<text class="g" x="2" y="119">HasApprovals</text><text class="g c" x="166" y="119">S[0:?]</text>
<text x="2" y="131">UsageName</text><text class="c" x="166" y="131">[0:1]</text>
<text x="2" y="143">PropertyReference</text><text class="c" x="166" y="143">[0:1]</text>
</g>
<g id="n-tpl-single-1" transform="translate(1008,1924)"><rect class="hb" width="169" height="13"/><text class="bt" x="2" y="10.5">Single Value</text></g>
<g id="n-tpl-bounded-1" transform="translate(1008,1956)"><rect class="hb" width="169" height="13"/><text class="bt" x="2" y="10.5">Bounded Value</text></g>
<g id="n-tpl-enumerated-1" transform="translate(1008,1988)"><rect class="hb" width="169" height="13"/><text class="bt" x="2" y="10.5">Enumerated Value</text></g>
<g id="n-tpl-list-1" transform="translate(1008,2020)"><rect class="hb" width="169" height="13"/><text class="bt" x="2" y="10.5">List Value</text></g>
<g id="n-tpl-table-1" transform="translate(1008,2052)"><rect class="hb" width="169" height="13"/><text class="bt" x="2" y="10.5">Table Value</text></g>
<g id="n-tpl-reference-1" transform="translate(1008,2084)"><rect class="hb" width="169" height="13"/><text class="bt" x="2" y="10.5">Reference Value Time Series</text></g>

<g id="n-reldefinesbyproperties-1" transform="translate(208,3004)">
<rect class="bx" x="0.5" y="0.5" width="168" height="84"/><rect class="hd" width="169" height="13"/>
<text class="ht" x="2" y="10.5">IfcRelDefinesByProperties</text>
<text x="2" y="23">GlobalId</text><text class="c" x="166" y="23">[1:1]</text>
<text x="2" y="35">OwnerHistory</text><text class="c" x="166" y="35">[0:1]</text>
<text x="2" y="47">Name</text><text class="c" x="166" y="47">[0:1]</text>
<text x="2" y="59">Description</text><text class="c" x="166" y="59">[0:1]</text>
<text x="2" y="71">RelatedObjects</text><text class="c" x="166" y="71">S[1:?]</text>
<text x="2" y="83">RelatingPropertyDefinition</text><text class="c" x="166" y="83">[1:1]</text>
</g>
<g id="n-propertyset-2" transform="translate(408,3004)">
<rect class="bx" x="0.5" y="0.5" width="168" height="132"/><rect class="hd" width="169" height="13"/>
<text class="ht" x="2" y="10.5">IfcPropertySet</text>
<text x="2" y="23">GlobalId</text><text class="c" x="166" y="23">[1:1]</text>
<text x="2" y="35">OwnerHistory</text><text class="c" x="166" y="35">[0:1]</text>
<text x="2" y="47">Name</text><text class="c" x="166" y="47">[0:1]</text>
<text x="2" y="59">Description</text><text class="c" x="166" y="59">[0:1]</text>
<text class="g" x="2" y="71">HasContext</text><text class="g c" x="166" y="71">S[0:1]</text>
<text class="g" x="2" y="83">HasAssociations</text><text class="g c" x="166" y="83">S[0:?]</text>
<text class="g" x="2" y="95">DefinesType</text><text class="g c" x="166" y="95">S[0:?]</text>
<text class="g" x="2" y="107">IsDefinedBy</text><text class="g c" x="166" y="107">S[0:?]</text>
<text class="g" x="2" y="119">DefinesOccurrence</text><text class="g c" x="166" y="119">S[0:?]</text>
<text class="u" x="2" y="131">HasProperties</text><text class="c" x="166" y="131">S[1:?]</text>
</g>
<g id="n-singlevalue-2" transform="translate(608,3004)">
<rect class="bx" x="0.5" y="0.5" width="168" height="144"/><rect class="hd" width="169" height="13"/>
<text class="ht" x="2" y="10.5">IfcPropertySingleValue</text>
<text class="g" x="2" y="23">HasExternalReferences</text><text class="g c" x="166" y="23">S[0:?]</text>
<text x="2" y="35">Name</text><text class="c" x="166" y="35">[1:1]</text>
<text x="2" y="47">Description</text><text class="c" x="166" y="47">[0:1]</text>
<text class="g" x="2" y="59">PartOfPset</text><text class="g c" x="166" y="59">S[0:?]</text>
<text class="g" x="2" y="71">PropertyForDependance</text><text class="g c" x="166" y="71">S[0:?]</text>
<text class="g" x="2" y="83">PropertyDependsOn</text><text class="g c" x="166" y="83">S[0:?]</text>
<text class="g" x="2" y="95">PartOfComplex</text><text class="g c" x="166" y="95">S[0:?]</text>
<text class="g" x="2" y="107">HasConstraints</text><text class="g c" x="166" y="107">S[0:?]</text>
<text class="g" x="2" y="119">HasApprovals</text><text class="g c" x="166" y="119">S[0:?]</text>
<text x="2" y="131">NominalValue</text><text class="c" x="166" y="131">[0:1]</text>
<text x="2" y="143">Unit</text><text class="c" x="166" y="143">[0:1]</text>
</g>
<g id="n-boundedvalue-2" transform="translate(608,3168)">
<rect class="bx" x="0.5" y="0.5" width="168" height="168"/><rect class="hd" width="169" height="13"/>
<text class="ht" x="2" y="10.5">IfcPropertyBoundedValue</text>
<text class="g" x="2" y="23">HasExternalReferences</text><text class="g c" x="166" y="23">S[0:?]</text>
<text x="2" y="35">Name</text><text class="c" x="166" y="35">[1:1]</text>
<text x="2" y="47">Description</text><text class="c" x="166" y="47">[0:1]</text>
<text class="g" x="2" y="59">PartOfPset</text><text class="g c" x="166" y="59">S[0:?]</text>
<text class="g" x="2" y="71">PropertyForDependance</text><text class="g c" x="166" y="71">S[0:?]</text>
<text class="g" x="2" y="83">PropertyDependsOn</text><text class="g c" x="166" y="83">S[0:?]</text>
<text class="g" x="2" y="95">PartOfComplex</text><text class="g c" x="166" y="95">S[0:?]</text>
<text class="g" x="2" y="107">HasConstraints</text><text class="g c" x="166" y="107">S[0:?]</text>
<text class="g" x="2" y="119">HasApprovals</text><text class="g c" x="166" y="119">S[0:?]</text>
<text x="2" y="131">UpperBoundValue</text><text class="c" x="166" y="131">[0:1]</text>
<text x="2" y="143">LowerBoundValue</text><text class="c" x="166" y="143">[0:1]</text>
<text x="2" y="155">Unit</text><text class="c" x="166" y="155">[0:1]</text>
<text x="2" y="167">SetPointValue</text><text class="c" x="166" y="167">[0:1]</text>
</g>
<g id="n-enumeratedvalue-2" transform="translate(608,3356)">
<rect class="bx" x="0.5" y="0.5" width="168" height="144"/><rect class="hd" width="169" height="13"/>
<text class="ht" x="2" y="10.5">IfcPropertyEnumeratedValue</text>
<text class="g" x="2" y="23">HasExternalReferences</text><text class="g c" x="166" y="23">S[0:?]</text>
<text x="2" y="35">Name</text><text class="c" x="166" y="35">[1:1]</text>
<text x="2" y="47">Description</text><text class="c" x="166" y="47">[0:1]</text>
<text class="g" x="2" y="59">PartOfPset</text><text class="g c" x="166" y="59">S[0:?]</text>
<text class="g" x="2" y="71">PropertyForDependance</text><text class="g c" x="166" y="71">S[0:?]</text>
<text class="g" x="2" y="83">PropertyDependsOn</text><text class="g c" x="166" y="83">S[0:?]</text>
<text class="g" x="2" y="95">PartOfComplex</text><text class="g c" x="166" y="95">S[0:?]</text>
<text class="g" x="2" y="107">HasConstraints</text><text class="g c" x="166" y="107">S[0:?]</text>
<text class="g" x="2" y="119">HasApprovals</text><text class="g c" x="166" y="119">S[0:?]</text>
<text x="2" y="131">EnumerationValues</text><text class="c" x="166" y="131">L[1:?]</text>
<text x="2" y="143">EnumerationReference</text><text class="c" x="166" y="143">[0:1]</text>
</g>
<g id="n-listvalue-2" transform="translate(608,3520)">
<rect class="bx" x="0.5" y="0.5" width="168" height="144"/><rect class="hd" width="169" height="13"/>
<text class="ht" x="2" y="10.5">IfcPropertyListValue</text>
<text class="g" x="2" y="23">HasExternalReferences</text><text class="g c" x="166" y="23">S[0:?]</text>
<text x="2" y="35">Name</text><text class="c" x="166" y="35">[1:1]</text>
<text x="2" y="47">Description</text><text class="c" x="166" y="47">[0:1]</text>
<text class="g" x="2" y="59">PartOfPset</text><text class="g c" x="166" y="59">S[0:?]</text>
<text class="g" x="2" y="71">PropertyForDependance</text><text class="g c" x="166" y="71">S[0:?]</text>
<text class="g" x="2" y="83">PropertyDependsOn</text><text class="g c" x="166" y="83">S[0:?]</text>
<text class="g" x="2" y="95">PartOfComplex</text><text class="g c" x="166" y="95">S[0:?]</text>
<text class="g" x="2" y="107">HasConstraints</text><text class="g c" x="166" y="107">S[0:?]</text>
<text class="g" x="2" y="119">HasApprovals</text><text class="g c" x="166" y="119">S[0:?]</text>
<text x="2" y="131">ListValues</text><text class="c" x="166" y="131">L[1:?]</text>
<text x="2" y="143">Unit</text><text class="c" x="166" y="143">[0:1]</text>
</g>
<g id="n-tablevalue-2" transform="translate(608,3684)">
<rect class="bx" x="0.5" y="0.5" width="168" height="192"/><rect class="hd" width="169" height="13"/>
<text class="ht" x="2" y="10.5">IfcPropertyTableValue</text>
<text class="g" x="2" y="23">HasExternalReferences</text><text class="g c" x="166" y="23">S[0:?]</text>
<text x="2" y="35">Name</text><text class="c" x="166" y="35">[1:1]</text>
<text x="2" y="47">Description</text><text class="c" x="166" y="47">[0:1]</text>
<text class="g" x="2" y="59">PartOfPset</text><text class="g c" x="166" y="59">S[0:?]</text>
<text class="g" x="2" y="71">PropertyForDependance</text><text class="g c" x="166" y="71">S[0:?]</text>
<text class="g" x="2" y="83">PropertyDependsOn</text><text class="g c" x="166" y="83">S[0:?]</text>
<text class="g" x="2" y="95">PartOfComplex</text><text class="g c" x="166" y="95">S[0:?]</text>
<text class="g" x="2" y="107">HasConstraints</text><text class="g c" x="166" y="107">S[0:?]</text>
<text class="g" x="2" y="119">HasApprovals</text><text class="g c" x="166" y="119">S[0:?]</text>
<text x="2" y="131">DefiningValues</text><text class="c" x="166" y="131">L[1:?]</text>
<text x="2" y="143">DefinedValues</text><text class="c" x="166" y="143">L[1:?]</text>
<text x="2" y="155">Expression</text><text class="c" x="166" y="155">[0:1]</text>
<text x="2" y="167">DefiningUnit</text><text class="c" x="166" y="167">[0:1]</text>
<text x="2" y="179">DefinedUnit</text><text class="c" x="166" y="179">[0:1]</text>
<text x="2" y="191">CurveInterpolation</text><text class="c" x="166" y="191">[0:1]</text>
</g>
<g id="n-referencevalue-2" transform="translate(608,3896)">
<rect class="bx" x="0.5" y="0.5" width="168" height="144"/><rect class="hd" width="169" height="13"/>
<text class="ht" x="2" y="10.5">IfcPropertyReferenceValue</text>
<text class="g" x="2" y="23">HasExternalReferences</text><text class="g c" x="166" y="23">S[0:?]</text>
<text x="2" y="35">Name</text><text class="c" x="166" y="35">[1:1]</text>
<text x="2" y="47">Description</text><text class="c" x="166" y="47">[0:1]</text>
<text class="g" x="2" y="59">PartOfPset</text><text class="g c" x="166" y="59">S[0:?]</text>
<text class="g" x="2" y="71">PropertyForDependance</text><text class="g c" x="166" y="71">S[0:?]</text>
<text class="g" x="2" y="83">PropertyDependsOn</text><text class="g c" x="166" y="83">S[0:?]</text>
<text class="g" x="2" y="95">PartOfComplex</text><text class="g c" x="166" y="95">S[0:?]</text>
<text class="g" x="2" y="107">HasConstraints</text><text class="g c" x="166" y="107">S[0:?]</text>
<text class="g" x="2" y="119">HasApprovals</text><text class="g c" x="166" y="119">S[0:?]</text>
<text x="2" y="131">UsageName</text><text class="c" x="166" y="131">[0:1]</text>
<text x="2" y="143">PropertyReference</text><text class="c" x="166" y="143">[0:1]</text>
</g>
<g id="n-tpl-single-2" transform="translate(808,3004)"><rect class="hb" width="169" height="13"/><text class="bt" x="2" y="10.5">Single Value</text></g>
<g id="n-tpl-bounded-2" transform="translate(808,3036)"><rect class="hb" width="169" height="13"/><text class="bt" x="2" y="10.5">Bounded Value</text></g>
<g id="n-tpl-enumerated-2" transform="translate(808,3068)"><rect class="hb" width="169" height="13"/><text class="bt" x="2" y="10.5">Enumerated Value</text></g>
<g id="n-tpl-list-2" transform="translate(808,3100)"><rect class="hb" width="169" height="13"/><text class="bt" x="2" y="10.5">List Value</text></g>
<g id="n-tpl-table-2" transform="translate(808,3132)"><rect class="hb" width="169" height="13"/><text class="bt" x="2" y="10.5">Table Value</text></g>
<g id="n-tpl-reference-2" transform="translate(808,3164)"><rect class="hb" width="169" height="13"/><text class="bt" x="2" y="10.5">Reference Value Time Series</text></g>

<g id="n-reldefinesbyproperties-2" transform="translate(208,4084)">
<rect class="bx" x="0.5" y="0.5" width="168" height="84"/><rect class="hd" width="169" height="13"/>
<text class="ht" x="2" y="10.5">IfcRelDefinesByProperties</text>
<text x="2" y="23">GlobalId</text><text class="c" x="166" y="23">[1:1]</text>
<text x="2" y="35">OwnerHistory</text><text class="c" x="166" y="35">[0:1]</text>
<text x="2" y="47">Name</text><text class="c" x="166" y="47">[0:1]</text>
<text x="2" y="59">Description</text><text class="c" x="166" y="59">[0:1]</text>
<text x="2" y="71">RelatedObjects</text><text class="c" x="166" y="71">S[1:?]</text>
<text x="2" y="83">RelatingPropertyDefinition</text><text class="c" x="166" y="83">[1:1]</text>
</g>
<g id="n-propertyset-3" transform="translate(408,4084)">
<rect class="bx" x="0.5" y="0.5" width="168" height="132"/><rect class="hd" width="169" height="13"/>
<text class="ht" x="2" y="10.5">IfcPropertySet</text>
<text x="2" y="23">GlobalId</text><text class="c" x="166" y="23">[1:1]</text>
<text x="2" y="35">OwnerHistory</text><text class="c" x="166" y="35">[0:1]</text>
<text x="2" y="47">Name</text><text class="c" x="166" y="47">[0:1]</text>
<text x="2" y="59">Description</text><text class="c" x="166" y="59">[0:1]</text>
<text class="g" x="2" y="71">HasContext</text><text class="g c" x="166" y="71">S[0:1]</text>
<text class="g" x="2" y="83">HasAssociations</text><text class="g c" x="166" y="83">S[0:?]</text>
<text class="g" x="2" y="95">DefinesType</text><text class="g c" x="166" y="95">S[0:?]</text>
<text class="g" x="2" y="107">IsDefinedBy</text><text class="g c" x="166" y="107">S[0:?]</text>
<text class="g" x="2" y="119">DefinesOccurrence</text><text class="g c" x="166" y="119">S[0:?]</text>
<text class="u" x="2" y="131">HasProperties</text><text class="c" x="166" y="131">S[1:?]</text>
</g>
<g id="n-singlevalue-3" transform="translate(608,4084)">
<rect class="bx" x="0.5" y="0.5" width="168" height="144"/><rect class="hd" width="169" height="13"/>
<text class="ht" x="2" y="10.5">IfcPropertySingleValue</text>
<text class="g" x="2" y="23">HasExternalReferences</text><text class="g c" x="166" y="23">S[0:?]</text>
<text x="2" y="35">Name</text><text class="c" x="166" y="35">[1:1]</text>
<text x="2" y="47">Description</text><text class="c" x="166" y="47">[0:1]</text>
<text class="g" x="2" y="59">PartOfPset</text><text class="g c" x="166" y="59">S[0:?]</text>
<text class="g" x="2" y="71">PropertyForDependance</text><text class="g c" x="166" y="71">S[0:?]</text>
<text class="g" x="2" y="83">PropertyDependsOn</text><text class="g c" x="166" y="83">S[0:?]</text>
<text class="g" x="2" y="95">PartOfComplex</text><text class="g c" x="166" y="95">S[0:?]</text>
<text class="g" x="2" y="107">HasConstraints</text><text class="g c" x="166" y="107">S[0:?]</text>
<text class="g" x="2" y="119">HasApprovals</text><text class="g c" x="166" y="119">S[0:?]</text>
<text x="2" y="131">NominalValue</text><text class="c" x="166" y="131">[0:1]</text>
<text x="2" y="143">Unit</text><text class="c" x="166" y="143">[0:1]</text>
</g>
<g id="n-boundedvalue-3" transform="translate(608,4248)">
<rect class="bx" x="0.5" y="0.5" width="168" height="168"/><rect class="hd" width="169" height="13"/>
<text class="ht" x="2" y="10.5">IfcPropertyBoundedValue</text>
<text class="g" x="2" y="23">HasExternalReferences</text><text class="g c" x="166" y="23">S[0:?]</text>
<text x="2" y="35">Name</text><text class="c" x="166" y="35">[1:1]</text>
<text x="2" y="47">Description</text><text class="c" x="166" y="47">[0:1]</text>
<text class="g" x="2" y="59">PartOfPset</text><text class="g c" x="166" y="59">S[0:?]</text>
<text class="g" x="2" y="71">PropertyForDependance</text><text class="g c" x="166" y="71">S[0:?]</text>
<text class="g" x="2" y="83">PropertyDependsOn</text><text class="g c" x="166" y="83">S[0:?]</text>
<text class="g" x="2" y="95">PartOfComplex</text><text class="g c" x="166" y="95">S[0:?]</text>
<text class="g" x="2" y="107">HasConstraints</text><text class="g c" x="166" y="107">S[0:?]</text>
<text class="g" x="2" y="119">HasApprovals</text><text class="g c" x="166" y="119">S[0:?]</text>
<text x="2" y="131">UpperBoundValue</text><text class="c" x="166" y="131">[0:1]</text>
<text x="2" y="143">LowerBoundValue</text><text class="c" x="166" y="143">[0:1]</text>
<text x="2" y="155">Unit</text><text class="c" x="166" y="155">[0:1]</text>
<text x="2" y="167">SetPointValue</text><text class="c" x="166" y="167">[0:1]</text>
</g>
<g id="n-enumeratedvalue-3" transform="translate(608,4436)">
<rect class="bx" x="0.5" y="0.5" width="168" height="144"/><rect class="hd" width="169" height="13"/>
<text class="ht" x="2" y="10.5">IfcPropertyEnumeratedValue</text>
<text class="g" x="2" y="23">HasExternalReferences</text><text class="g c" x="166" y="23">S[0:?]</text>
<text x="2" y="35">Name</text><text class="c" x="166" y="35">[1:1]</text>
<text x="2" y="47">Description</text><text class="c" x="166" y="47">[0:1]</text>
<text class="g" x="2" y="59">PartOfPset</text><text class="g c" x="166" y="59">S[0:?]</text>
<text class="g" x="2" y="71">PropertyForDependance</text><text class="g c" x="166" y="71">S[0:?]</text>
<text class="g" x="2" y="83">PropertyDependsOn</text><text class="g c" x="166" y="83">S[0:?]</text>
<text class="g" x="2" y="95">PartOfComplex</text><text class="g c" x="166" y="95">S[0:?]</text>
<text class="g" x="2" y="107">HasConstraints</text><text class="g c" x="166" y="107">S[0:?]</text>
<text class="g" x="2" y="119">HasApprovals</text><text class="g c" x="166" y="119">S[0:?]</text>
<text x="2" y="131">EnumerationValues</text><text class="c" x="166" y="131">L[1:?]</text>
<text x="2" y="143">EnumerationReference</text><text class="c" x="166" y="143">[0:1]</text>
</g>
<g id="n-listvalue-3" transform="translate(608,4600)">
<rect class="bx" x="0.5" y="0.5" width="168" height="144"/><rect class="hd" width="169" height="13"/>
<text class="ht" x="2" y="10.5">IfcPropertyListValue</text>
<text class="g" x="2" y="23">HasExternalReferences</text><text class="g c" x="166" y="23">S[0:?]</text>
<text x="2" y="35">Name</text><text class="c" x="166" y="35">[1:1]</text>
<text x="2" y="47">Description</text><text class="c" x="166" y="47">[0:1]</text>
<text class="g" x="2" y="59">PartOfPset</text><text class="g c" x="166" y="59">S[0:?]</text>
<text class="g" x="2" y="71">PropertyForDependance</text><text class="g c" x="166" y="71">S[0:?]</text>
<text class="g" x="2" y="83">PropertyDependsOn</text><text class="g c" x="166" y="83">S[0:?]</text>
<text class="g" x="2" y="95">PartOfComplex</text><text class="g c" x="166" y="95">S[0:?]</text>
<text class="g" x="2" y="107">HasConstraints</text><text class="g c" x="166" y="107">S[0:?]</text>
<text class="g" x="2" y="119">HasApprovals</text><text class="g c" x="166" y="119">S[0:?]</text>
<text x="2" y="131">ListValues</text><text class="c" x="166" y="131">L[1:?]</text>
<text x="2" y="143">Unit</text><text class="c" x="166" y="143">[0:1]</text>
</g>
<g id="n-tablevalue-3" transform="translate(608,4764)">
<rect class="bx" x="0.5" y="0.5" width="168" height="192"/><rect class="hd" width="169" height="13"/>
<text class="ht" x="2" y="10.5">IfcPropertyTableValue</text>
<text class="g" x="2" y="23">HasExternalReferences</text><text class="g c" x="166" y="23">S[0:?]</text>
<text x="2" y="35">Name</text><text class="c" x="166" y="35">[1:1]</text>
<text x="2" y="47">Description</text><text class="c" x="166" y="47">[0:1]</text>
<text class="g" x="2" y="59">PartOfPset</text><text class="g c" x="166" y="59">S[0:?]</text>
<text class="g" x="2" y="71">PropertyForDependance</text><text class="g c" x="166" y="71">S[0:?]</text>
<text class="g" x="2" y="83">PropertyDependsOn</text><text class="g c" x="166" y="83">S[0:?]</text>
<text class="g" x="2" y="95">PartOfComplex</text><text class="g c" x="166" y="95">S[0:?]</text>
<text class="g" x="2" y="107">HasConstraints</text><text class="g c" x="166" y="107">S[0:?]</text>
<text class="g" x="2" y="119">HasApprovals</text><text class="g c" x="166" y="119">S[0:?]</text>
<text x="2" y="131">DefiningValues</text><text class="c" x="166" y="131">L[1:?]</text>
<text x="2" y="143">DefinedValues</text><text class="c" x="166" y="143">L[1:?]</text>
<text x="2" y="155">Expression</text><text class="c" x="166" y="155">[0:1]</text>
<text x="2" y="167">DefiningUnit</text><text class="c" x="166" y="167">[0:1]</text>
<text x="2" y="179">DefinedUnit</text><text class="c" x="166" y="179">[0:1]</text>
<text x="2" y="191">CurveInterpolation</text><text class="c" x="166" y="191">[0:1]</text>
</g>

<g id="n-relassignstogroup" transform="translate(208,5000)">
<rect class="bx" x="0.5" y="0.5" width="168" height="96"/><rect class="hd" width="169" height="13"/>
<text class="ht" x="2" y="10.5">IfcRelAssignsToGroup</text>
<text x="2" y="23">GlobalId</text><text class="c" x="166" y="23">[1:1]</text>
<text x="2" y="35">OwnerHistory</text><text class="c" x="166" y="35">[0:1]</text>
<text x="2" y="47">Name</text><text class="c" x="166" y="47">[0:1]</text>
<text x="2" y="59">Description</text><text class="c" x="166" y="59">[0:1]</text>
<text class="u" x="2" y="71">RelatedObjects</text><text class="c" x="166" y="71">S[1:?]</text>
<text class="rd" x="2" y="83">RelatedObjectsType</text><text class="rd c" x="166" y="83">[0:1]</text>
<text x="2" y="95">RelatingGroup</text><text class="c" x="166" y="95">[1:1]</text>
</g>
<g id="n-product" transform="translate(408,5000)">
<rect class="bx" x="0.5" y="0.5" width="168" height="240"/><rect class="hg" width="169" height="13"/>
<text class="ht" x="2" y="10.5">IfcProduct</text>
<text x="2" y="23">GlobalId</text><text class="c" x="166" y="23">[1:1]</text>
<text x="2" y="35">OwnerHistory</text><text class="c" x="166" y="35">[0:1]</text>
<text x="2" y="47">Name</text><text class="c" x="166" y="47">[0:1]</text>
<text x="2" y="59">Description</text><text class="c" x="166" y="59">[0:1]</text>
<text class="g" x="2" y="71">HasAssignments</text><text class="g c" x="166" y="71">S[0:?]</text>
<text class="g" x="2" y="83">Nests</text><text class="g c" x="166" y="83">S[0:1]</text>
<text class="g" x="2" y="95">IsNestedBy</text><text class="g c" x="166" y="95">S[0:?]</text>
<text class="g" x="2" y="107">HasContext</text><text class="g c" x="166" y="107">S[0:1]</text>
<text class="g" x="2" y="119">IsDecomposedBy</text><text class="g c" x="166" y="119">S[0:?]</text>
<text class="g" x="2" y="131">Decomposes</text><text class="g c" x="166" y="131">S[0:1]</text>
<text class="g" x="2" y="143">HasAssociations</text><text class="g c" x="166" y="143">S[0:?]</text>
<text x="2" y="155">ObjectType</text><text class="c" x="166" y="155">[0:1]</text>
<text class="g" x="2" y="167">IsDeclaredBy</text><text class="g c" x="166" y="167">S[0:1]</text>
<text class="g" x="2" y="179">Declares</text><text class="g c" x="166" y="179">S[0:?]</text>
<text class="g" x="2" y="191">IsTypedBy</text><text class="g c" x="166" y="191">S[0:1]</text>
<text class="g" x="2" y="203">IsDefinedBy</text><text class="g c" x="166" y="203">S[0:?]</text>
<text x="2" y="215">ObjectPlacement</text><text class="c" x="166" y="215">[0:1]</text>
<text x="2" y="227">Representation</text><text class="c" x="166" y="227">[0:1]</text>
<text class="g" x="2" y="239">ReferencedBy</text><text class="g c" x="166" y="239">S[0:?]</text>
</g>
</svg>
